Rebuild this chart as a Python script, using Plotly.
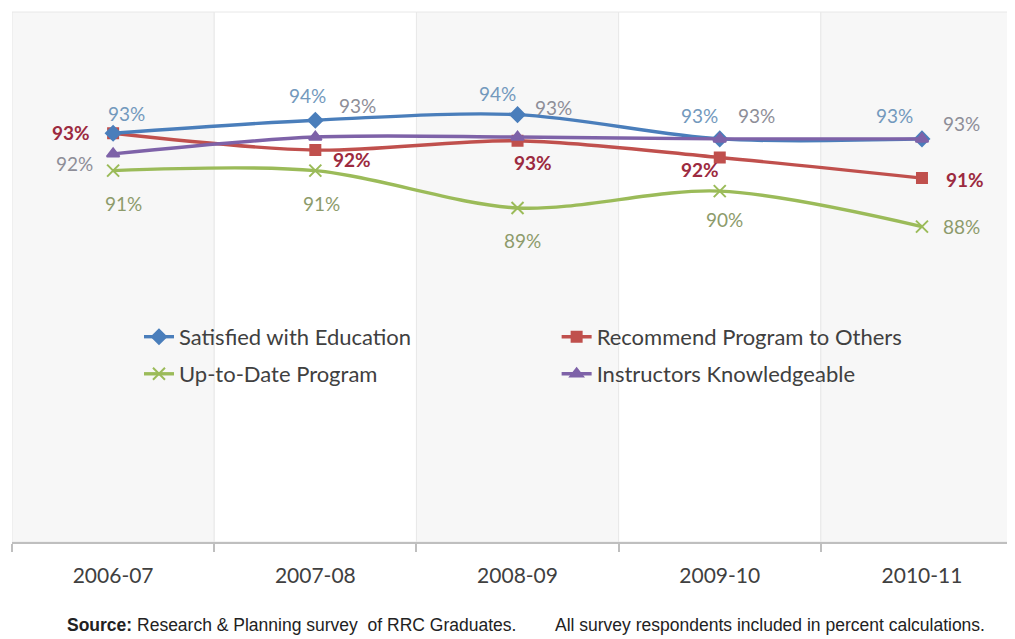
import plotly.graph_objects as go

categories = ["2006-07", "2007-08", "2008-09", "2009-10", "2010-11"]
satisfied = [93.0, 93.7, 94.0, 92.7, 92.7]
recommend = [93.0, 92.1, 92.6, 91.7, 90.6]
up_to_date = [91.0, 91.0, 89.0, 89.9, 88.0]
instructors = [91.9, 92.8, 92.8, 92.7, 92.7]

series_names = ["Satisfied with Education", "Recommend Program to Others",
                "Up-to-Date Program", "Instructors Knowledgeable"]

FONT = "Lato"
fig = go.Figure()

# background bands (alternating columns)
for i in range(len(categories)):
    fig.add_shape(type="rect", xref="x", yref="paper", x0=i - 0.5, x1=i + 0.5, y0=0, y1=1,
                  fillcolor="#f7f7f7" if i % 2 == 0 else "#ffffff",
                  line=dict(color="#e8e8e8", width=1), layer="below")

styles = [
    dict(name=series_names[0], y=satisfied, color="#4A7EBB", symbol="diamond", size=11,
         lab_color="#7399bd", bold=False, legend="legend",
         shifts=[(13, 20), (-8, 25), (-20, 21), (-20, 23), (-27, 23)]),
    dict(name=series_names[1], y=recommend, color="#C0504D", symbol="square", size=10,
         lab_color="#9c2a40", bold=True, legend="legend2",
         shifts=[(-42, 1), (37, -9), (15, -22), (-20, -12), (43, -1)]),
    dict(name=series_names[2], y=up_to_date, color="#9BBB59", symbol="x-thin", size=12,
         lab_color="#8d9b6b", bold=False, legend="legend3",
         shifts=[(10, -33), (6, -33), (5, -33), (5, -28), (40, 0)]),
    dict(name=series_names[3], y=instructors, color="#7E62A8", symbol="triangle-up", size=11,
         lab_color="#8e8e98", bold=False, legend="legend4",
         shifts=[(-39, -10), (42, 32), (36, 30), (37, 23), (40, 15)]),
]

draw_order = [2, 1, 0, 3]
for k in draw_order:
    s = styles[k]
    fig.add_trace(go.Scatter(
        x=categories, y=s["y"], name=s["name"], mode="lines+markers",
        line=dict(color=s["color"], width=3.4, shape="spline", smoothing=0.9),
        marker=dict(symbol=s["symbol"], size=s["size"], color=s["color"],
                    line=dict(color=s["color"], width=2)),
        legend=s["legend"], showlegend=True))

for s in styles:
    for c, v, (dx, dy) in zip(categories, s["y"], s["shifts"]):
        txt = f"{round(v):d}%"
        if s["bold"]:
            txt = f"<b>{txt}</b>"
        fig.add_annotation(x=c, y=v, xref="x", yref="y", text=txt, showarrow=False,
                           xshift=dx, yshift=dy,
                           font=dict(family=FONT, size=19, color=s["lab_color"]))

legend_common = dict(bgcolor="rgba(0,0,0,0)", font=dict(family=FONT, size=22, color="#404040"),
                     xanchor="left", yanchor="middle", itemwidth=30)
fig.update_layout(
    legend=dict(x=0.1266, y=0.387, **legend_common),
    legend2=dict(x=0.543, y=0.387, **legend_common),
    legend3=dict(x=0.1266, y=0.317, **legend_common),
    legend4=dict(x=0.543, y=0.317, **legend_common),
)

fig.update_xaxes(type="category", range=[-0.5, 4.46], showgrid=False, zeroline=False,
                 showline=True, linecolor="#bfbfbf", linewidth=2,
                 tickson="boundaries", ticks="outside", ticklen=8, tickcolor="#bfbfbf",
                 tickwidth=1.5, ticklabelstandoff=14,
                 tickfont=dict(family=FONT, size=21, color="#404040"))
fig.update_yaxes(range=[71.1, 99.5], visible=False, showgrid=False, zeroline=False)

fig.add_annotation(xref="paper", yref="paper", x=(65 - 12) / 1003, y=-0.1566,
                   xanchor="left", yanchor="middle", showarrow=False,
                   text="<b>Source:</b> Research & Planning survey  of RRC Graduates.",
                   font=dict(family="Liberation Sans", size=17.5, color="#222222"))
fig.add_annotation(xref="paper", yref="paper", x=(553 - 12) / 1003, y=-0.1566,
                   xanchor="left", yanchor="middle", showarrow=False,
                   text="All survey respondents included in percent calculations.",
                   font=dict(family="Liberation Sans", size=17.5, color="#222222"))

# page body adds an 8px offset; figure is sized so the plot lands where the reference has it
fig.update_layout(
    width=1007, height=631,
    margin=dict(l=4, r=0, t=4, b=97),
    paper_bgcolor="#ffffff", plot_bgcolor="#ffffff",
)

fig.write_html("out.html")
